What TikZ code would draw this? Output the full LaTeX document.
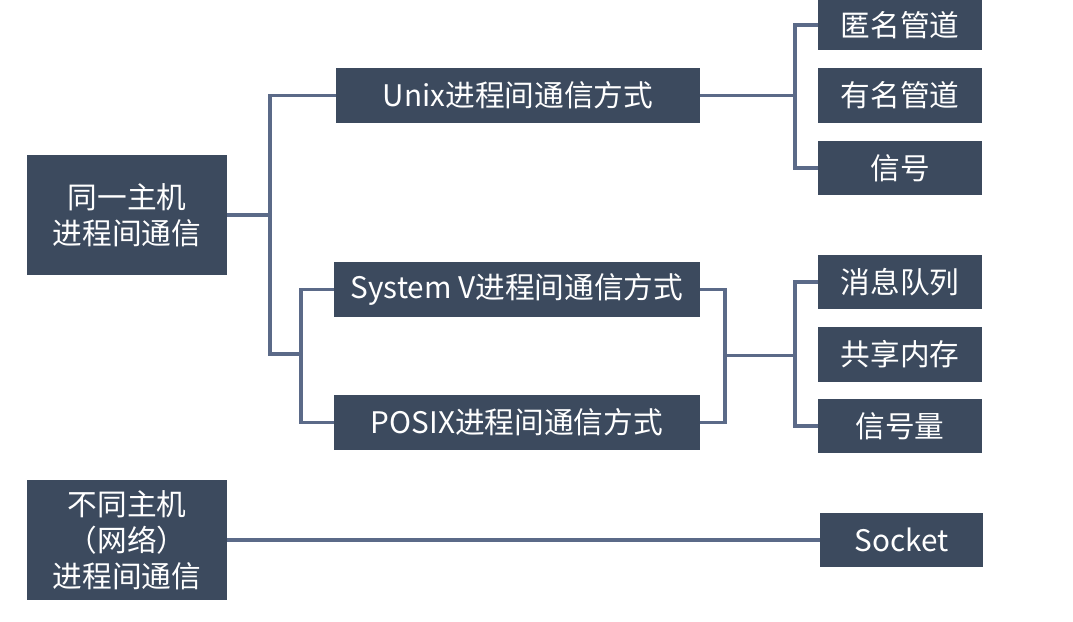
\documentclass[tikz,border=0pt]{standalone}
\usepackage{fontspec}
\newfontfamily\cjk{Noto Sans CJK SC}
\definecolor{boxfill}{HTML}{3C4A5E}
\definecolor{linecol}{HTML}{5B6A88}
\begin{document}
\begin{tikzpicture}[x=0.02cm,y=-0.02cm,
  box/.style={fill=boxfill,text=white,font=\cjk\fontsize{16.9}{20.5}\selectfont,
    align=center,inner sep=0pt,minimum height=1.1cm},
  conn/.style={draw=linecol,line width=2.2pt}]
\useasboundingbox (0,0) rectangle (1073,622);
% left column
\node[box,minimum width=4cm,minimum height=2.4cm] (same) at (127,215) {同一主机\\进程间通信};
\node[box,minimum width=4cm,minimum height=2.42cm] (diff) at (127,540) {不同主机\\（网络）\\进程间通信};
% middle column
\node[box,minimum width=7.28cm] (unix) at (518,95.5) {Unix进程间通信方式};
\node[box,minimum width=7.32cm] (sysv) at (517,289.5) {System V进程间通信方式};
\node[box,minimum width=7.32cm] (posix) at (517,422.5) {POSIX进程间通信方式};
% right column
\node[box,minimum width=3.28cm,minimum height=1cm] (anon) at (900,25) {匿名管道};
\node[box,minimum width=3.28cm] (named) at (900,95.5) {有名管道};
\node[box,minimum width=3.28cm] (signal) at (900,168) {信号};
\node[box,minimum width=3.28cm] (msgq) at (900,282) {消息队列};
\node[box,minimum width=3.28cm] (shm) at (900,354.5) {共享内存};
\node[box,minimum width=3.28cm] (sem) at (900,426) {信号量};
\node[box,minimum width=3.26cm] (socket) at (901.5,540) {Socket};
% junctions
\coordinate (jsame) at (270,215);
\coordinate (jsv) at (301,354);
\coordinate (junix) at (795,95.5);
\coordinate (jleft) at (725,355.5);
\coordinate (jright) at (795,355.5);
% connectors
\draw[conn] (same.east) -- (jsame);
\draw[conn] (unix.west) -| (jsame) |- (jsv);
\draw[conn] (sysv.west) -| (jsv) |- (posix.west);
\draw[conn] (unix.east) -- (junix);
\draw[conn] (anon.west) -| (junix) |- (signal.west);
\draw[conn] (sysv.east) -| (jleft) |- (posix.east);
\draw[conn] (jleft) -- (jright);
\draw[conn] (msgq.west) -| (jright) |- (sem.west);
\draw[conn] (diff.east) -- (socket.west);
\end{tikzpicture}
\end{document}
